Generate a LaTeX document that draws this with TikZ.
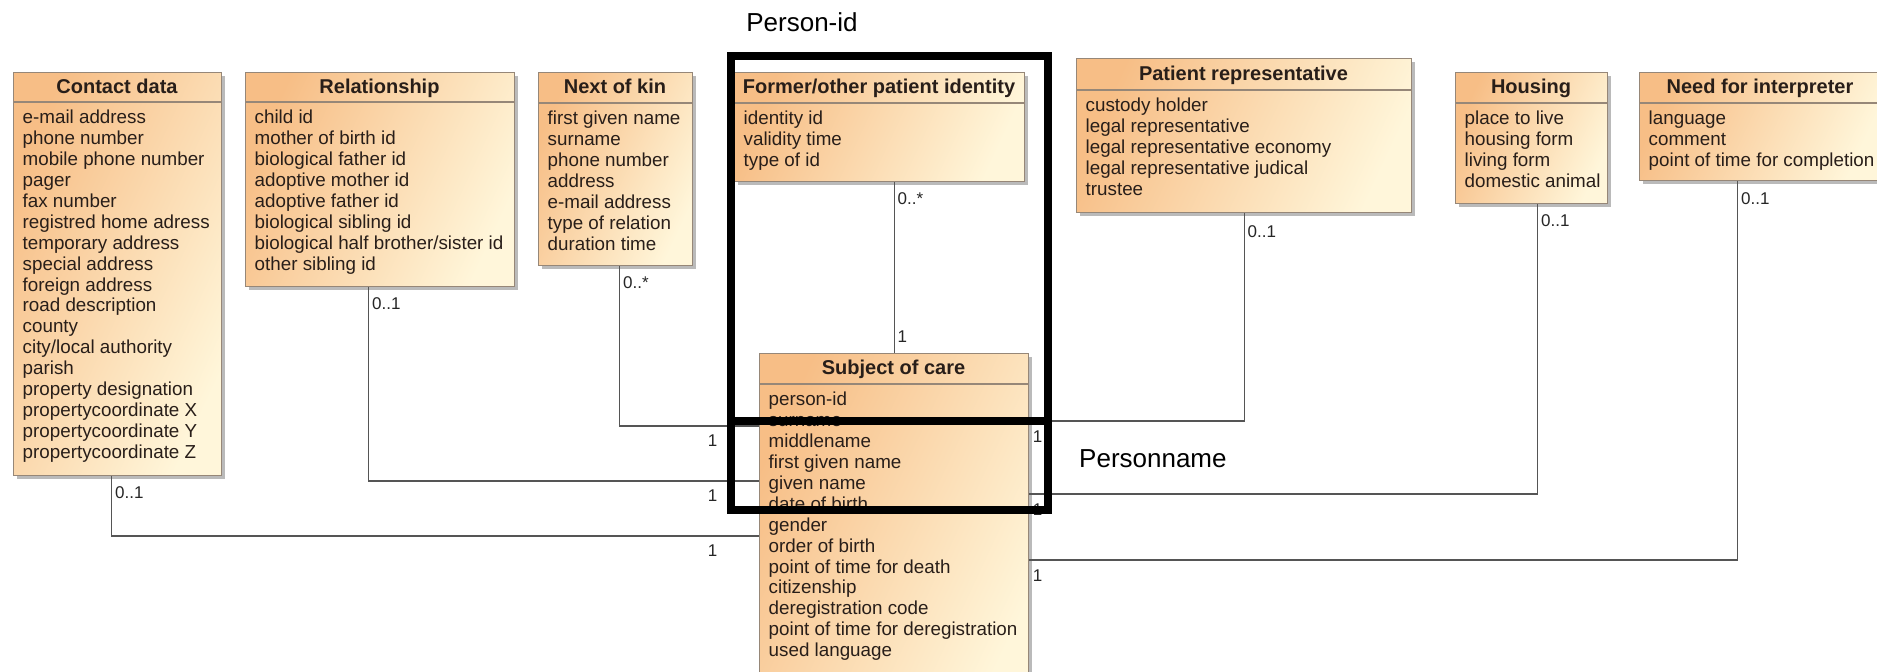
\documentclass[tikz,border=0pt]{standalone}
\usepackage{fontspec}
\setmainfont{Liberation Sans}
\usepackage{xcolor}
\usetikzlibrary{shadows}
\definecolor{boxorange}{RGB}{247,190,134}
\definecolor{boxcream}{RGB}{255,246,218}
\definecolor{boxline}{RGB}{150,135,120}
\definecolor{assocline}{RGB}{85,85,85}
\definecolor{attrtext}{RGB}{40,30,25}

\begin{document}
\begin{tikzpicture}[x=1pt,y=-1pt,
  classbox/.style={draw=boxline, line width=1.2pt, top color=boxorange, bottom color=boxcream, shading angle=65, anchor=north west, drop shadow={shadow xshift=3pt, shadow yshift=-3pt, fill=black!45, opacity=0.6}},
  classtitle/.style={font=\fontsize{20}{22}\selectfont\bfseries, text height=14.5pt, text depth=2pt, text=attrtext},
  attrs/.style={font=\fontsize{18.8}{20.9}\selectfont, align=left, anchor=north west, text=attrtext},
  divider/.style={draw=boxline, line width=1.2pt},
  assoc/.style={draw=assocline, line width=1.2pt},
  mult/.style={font=\fontsize{17}{17}\selectfont, text=black!85},
  frame/.style={draw=black, line width=8pt, anchor=north west},
  biglabel/.style={font=\fontsize{26}{26}\selectfont}]
\tikzstyle{every node}+=[inner sep=0pt]
\path [use as bounding box, fill=white] (0,0) rectangle (1877,672);
\node[classbox, minimum width=208pt, minimum height=403pt] (contact) at (13,72) {};
\draw [divider] (13,102) -- (221,102);
\node[classtitle] (contacttitle) at (117,87) {Contact data};
\node[attrs] (contactattrs) at (22.5,110) {e-mail address\\phone number\\mobile phone number\\pager\\fax number\\registred home adress\\temporary address\\special address\\foreign address\\road description\\county\\city/local authority\\parish\\property designation\\propertycoordinate X\\propertycoordinate Y\\propertycoordinate Z};
\node[classbox, minimum width=269pt, minimum height=214pt] (relation) at (245,72) {};
\draw [divider] (245,102) -- (514,102);
\node[classtitle] (relationtitle) at (379.5,87) {Relationship};
\node[attrs] (relationattrs) at (254.5,110) {child id\\mother of birth id\\biological father id\\adoptive mother id\\adoptive father id\\biological sibling id\\biological half brother/sister id\\other sibling id};
\node[classbox, minimum width=154pt, minimum height=193pt] (kin) at (538,72) {};
\draw [divider] (538,103) -- (692,103);
\node[classtitle] (kintitle) at (615,87.5) {Next of kin};
\node[attrs] (kinattrs) at (547.5,111) {first given name\\surname\\phone number\\address\\e-mail address\\type of relation\\duration time};
\node[classbox, minimum width=290pt, minimum height=109pt] (formerid) at (734,72) {};
\draw [divider] (734,103) -- (1024,103);
\node[classtitle] (formeridtitle) at (879,87.5) {Former/other patient identity};
\node[attrs] (formeridattrs) at (743.5,111) {identity id\\validity time\\type of id};
\node[classbox, minimum width=335pt, minimum height=154pt] (patrep) at (1076,58) {};
\draw [divider] (1076,90) -- (1411,90);
\node[classtitle] (patreptitle) at (1243.5,74) {Patient representative};
\node[attrs] (patrepattrs) at (1085.5,98) {custody holder\\legal representative\\legal representative economy\\legal representative judical\\trustee};
\node[classbox, minimum width=152pt, minimum height=131pt] (housing) at (1455,72) {};
\draw [divider] (1455,103) -- (1607,103);
\node[classtitle] (housingtitle) at (1531,87.5) {Housing};
\node[attrs] (housingattrs) at (1464.5,111) {place to live\\housing form\\living form\\domestic animal};
\node[classbox, minimum width=242pt, minimum height=108pt] (interp) at (1639,72) {};
\draw [divider] (1639,103) -- (1881,103);
\node[classtitle] (interptitle) at (1760,87.5) {Need for interpreter};
\node[attrs] (interpattrs) at (1648.5,111) {language\\comment\\point of time for completion};
\node[classbox, minimum width=269pt, minimum height=360pt] (subject) at (759,353) {};
\draw [divider] (759,384) -- (1028,384);
\node[classtitle] (subjecttitle) at (893.5,368.5) {Subject of care};
\node[attrs] (subjectattrs) at (768.5,392) {person-id\\surname\\middlename\\first given name\\given name\\date of birth\\gender\\order of birth\\point of time for death\\citizenship\\deregistration code\\point of time for deregistration\\used language};
\draw [assoc] ([xshift=-6pt]contact.south) node[mult, anchor=west, xshift=3pt, yshift=-16pt] (mcontact) {0..1} |- ([yshift=-183pt]subject.north west) node[mult, anchor=east, xshift=-41pt, yshift=-15pt] (mcontactsub) {1};
\draw [assoc] ([xshift=-11.5pt]relation.south) node[mult, anchor=west, xshift=3pt, yshift=-16pt] (mrelation) {0..1} |- ([yshift=-128pt]subject.north west) node[mult, anchor=east, xshift=-41pt, yshift=-15pt] (mrelationsub) {1};
\draw [assoc] ([xshift=4pt]kin.south) node[mult, anchor=west, xshift=3pt, yshift=-16pt] (mkin) {0..*} |- ([yshift=-73pt]subject.north west) node[mult, anchor=east, xshift=-41pt, yshift=-15pt] (mkinsub) {1};
\draw [assoc] (subject.north |- formerid.south) node[mult, anchor=west, xshift=3pt, yshift=-16pt] (mformerid) {0..*} -- (subject.north) node[mult, anchor=west, xshift=3pt, yshift=16pt] (mformeridsub) {1};
\draw [assoc] (patrep.south) node[mult, anchor=west, xshift=3pt, yshift=-18pt] (mpatrep) {0..1} |- ([yshift=-68pt]subject.north east) node[mult, anchor=west, xshift=3pt, yshift=-16pt] (mpatrepsub) {1};
\draw [assoc] ([xshift=6pt]housing.south) node[mult, anchor=west, xshift=3pt, yshift=-16pt] (mhousing) {0..1} |- ([yshift=-141pt]subject.north east) node[mult, anchor=west, xshift=3pt, yshift=-16pt] (mhousingsub) {1};
\draw [assoc] ([xshift=-23pt]interp.south) node[mult, anchor=west, xshift=3pt, yshift=-17pt] (minterp) {0..1} |- ([yshift=-207pt]subject.north east) node[mult, anchor=west, xshift=3pt, yshift=-16pt] (minterpsub) {1};
\node[frame, minimum width=317pt, minimum height=365pt] (pidframe) at (727,52) {};
\node[frame, minimum width=317pt, minimum height=89pt] (pnameframe) at (727,417) {};
\node[biglabel] (pidlabel) at (802,22) {Person-id};
\node[biglabel, anchor=west] (pnamelabel) at (1079,459) {Personname};
\end{tikzpicture}
\end{document}
